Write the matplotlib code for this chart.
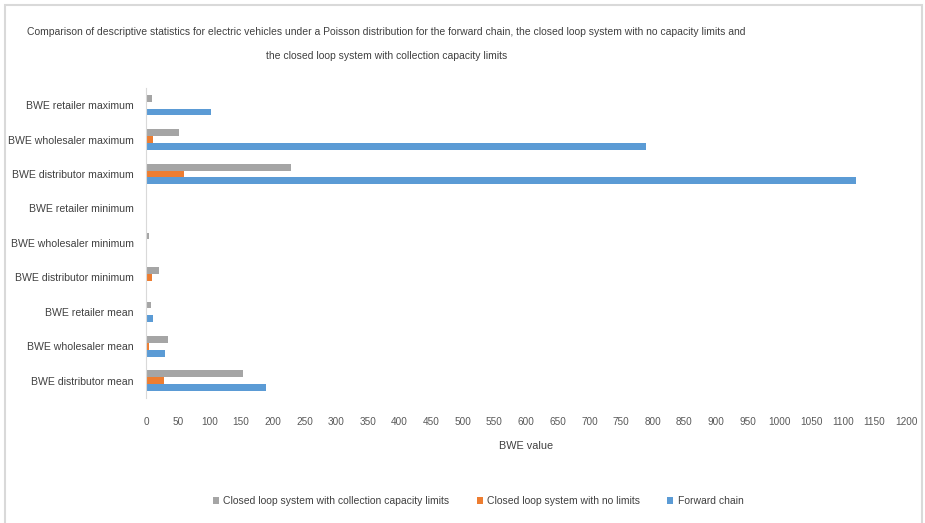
import numpy as np
import matplotlib.pyplot as plt
from matplotlib.patches import Rectangle

categories = ['BWE distributor mean', 'BWE wholesaler mean', 'BWE retailer mean',
              'BWE distributor minimum', 'BWE wholesaler minimum', 'BWE retailer minimum',
              'BWE distributor maximum', 'BWE wholesaler maximum', 'BWE retailer maximum']

forward_chain = [190, 30, 11, 0, 0, 0.3, 1121, 790, 102]
no_limits = [28, 5, 1.5, 9.5, 2, 0.5, 60, 11.5, 2]
capacity_limits = [153, 34.5, 7, 21, 4, 1, 228, 52.5, 9.5]

series_names = ['Closed loop system with collection capacity limits',
                'Closed loop system with no limits',
                'Forward chain']
colors = ['#A5A5A5', '#ED7D31', '#5B9BD5']

plt.rcParams['font.family'] = ['Liberation Sans', 'DejaVu Sans']

fig = plt.figure(figsize=(9.25, 5.23), dpi=100)
ax = fig.add_axes([0.158, 0.239, 0.8216, 0.593])

y = np.arange(len(categories))
h = 0.2
ax.barh(y - h, forward_chain, height=h, color=colors[2], label=series_names[2])
ax.barh(y, no_limits, height=h, color=colors[1], label=series_names[1])
ax.barh(y + h, capacity_limits, height=h, color=colors[0], label=series_names[0])

ax.set_xlim(0, 1200)
ax.set_ylim(-0.5, len(categories) - 0.5)
ax.set_xticks(np.arange(0, 1201, 50))
ax.set_yticks(y)
ax.set_yticklabels(categories, fontsize=7.6, color='#404040')
ax.tick_params(axis='x', labelsize=7.2, colors='#595959', length=0, pad=14)
ax.tick_params(axis='y', length=0, pad=9)
for s in ['top', 'right', 'bottom']:
    ax.spines[s].set_visible(False)
ax.spines['left'].set_color('#D9D9D9')
ax.set_xlabel('BWE value', fontsize=7.8, color='#404040', labelpad=10)

title_color = '#404040'
fig.text(0.418, 0.939, 'Comparison of descriptive statistics for electric vehicles under a Poisson distribution '
         'for the forward chain, the closed loop system with no capacity limits and',
         ha='center', va='center', fontsize=7.5, color=title_color)
fig.text(0.418, 0.893, 'the closed loop system with collection capacity limits',
         ha='center', va='center', fontsize=7.5, color=title_color)

handles, labels = ax.get_legend_handles_labels()
order = [2, 1, 0]
fig.legend([handles[i] for i in order], [labels[i] for i in order],
           loc='center', bbox_to_anchor=(0.517, 0.042), ncol=3, frameon=False,
           fontsize=7.5, handlelength=0.6, handleheight=0.6, columnspacing=2.6,
           handletextpad=0.4, labelcolor='#404040')

# thin frame round the chart area
fig.patches.append(Rectangle((0.005, -0.01), 0.992, 1.0, transform=fig.transFigure,
                             fill=False, edgecolor='#D9D9D9', linewidth=1.5))

fig.savefig('out.png', dpi=100)
